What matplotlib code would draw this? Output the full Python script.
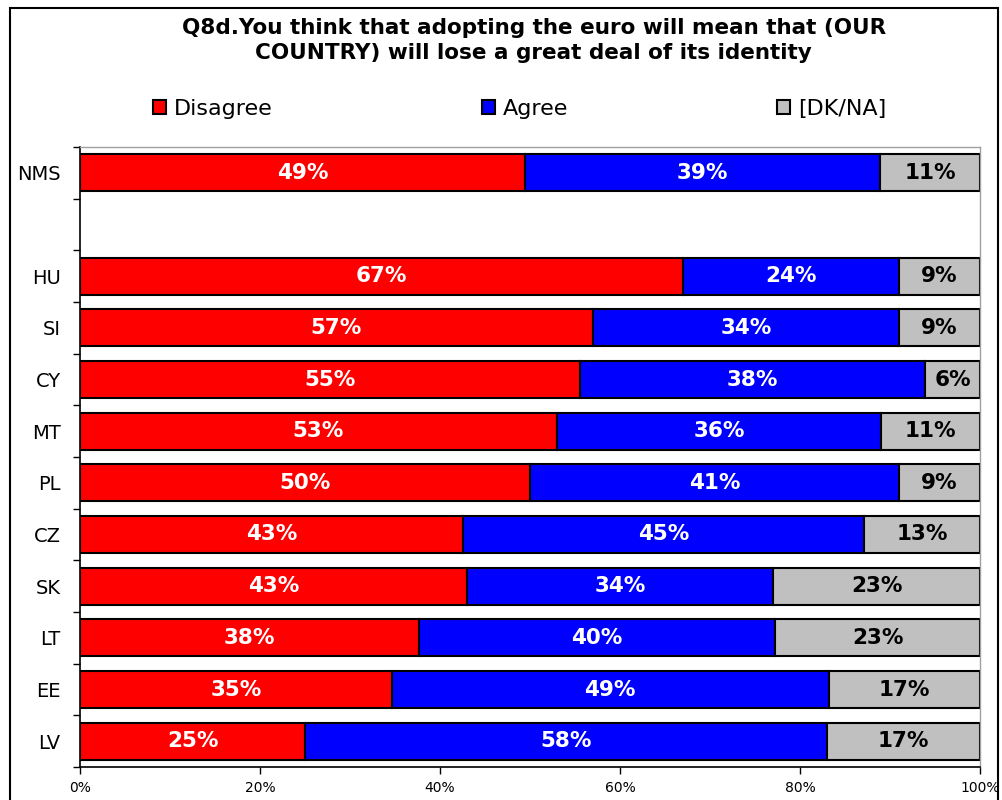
import numpy as np
import matplotlib
matplotlib.use('Agg')
import matplotlib.pyplot as plt
from matplotlib.patches import Rectangle

plt.rcParams['font.family'] = ['DejaVu Sans']

# rows top to bottom; the empty string is the spacer row under NMS
countries = ['NMS', '', 'HU', 'SI', 'CY', 'MT', 'PL', 'CZ', 'SK', 'LT', 'EE', 'LV']
disagree = [49, None, 67, 57, 55, 53, 50, 43, 43, 38, 35, 25]
agree = [39, None, 24, 34, 38, 36, 41, 45, 34, 40, 49, 58]
dkna = [11, None, 9, 9, 6, 11, 9, 13, 23, 23, 17, 17]

series = [('Disagree', disagree, '#ff0000', 'white'),
          ('Agree', agree, '#0000ff', 'white'),
          ('[DK/NA]', dkna, '#c0c0c0', 'black')]

fig = plt.figure(figsize=(10.03, 8), dpi=100)
ax = fig.add_axes([80/1003, 33/800, 900/1003, 620/800])

ypos = np.arange(len(countries))
rows = [i for i, c in enumerate(countries) if disagree[i] is not None]
totals = {i: disagree[i] + agree[i] + dkna[i] for i in rows}

# 100% stacked bars: each row is scaled to its own total
left = {i: 0.0 for i in rows}
for name, vals, col, tcol in series:
    widths = [vals[i] / totals[i] * 100 for i in rows]
    lefts = [left[i] for i in rows]
    ax.barh([ypos[i] for i in rows], widths, left=lefts, height=0.72,
            color=col, edgecolor='black', linewidth=1.5, label=name)
    for i, w, l in zip(rows, widths, lefts):
        ax.text(l + w / 2, ypos[i], '%d%%' % vals[i], ha='center', va='center',
                color=tcol, fontsize=15.5, fontweight='bold')
        left[i] = l + w

ax.set_xlim(0, 100)
ax.set_ylim(len(countries) - 0.5, -0.5)
ax.set_xticks(np.arange(0, 101, 20))
ax.set_xticklabels(['%d%%' % v for v in range(0, 101, 20)], fontsize=10)
ax.set_yticks(ypos)
ax.set_yticklabels(countries, fontsize=14)
ax.set_yticks(np.arange(-0.5, len(countries), 1), minor=True)
ax.tick_params(axis='y', which='major', length=0, pad=14)
ax.tick_params(axis='y', which='minor', length=5, width=1, direction='out')
ax.tick_params(axis='x', length=5, width=1, direction='out', pad=5)
for s in ['left', 'bottom']:
    ax.spines[s].set_linewidth(1.2)
for s in ['top', 'right']:
    ax.spines[s].set_color('#a0a0a0')
    ax.spines[s].set_linewidth(1)

fig.text(0.532, 0.978, 'Q8d.You think that adopting the euro will mean that (OUR\nCOUNTRY) will lose a great deal of its identity',
         ha='center', va='top', fontsize=15.5, fontweight='bold', linespacing=1.35)

handles, labels = ax.get_legend_handles_labels()
fig.legend(handles, labels, loc='center', bbox_to_anchor=(0.518, 0.864), ncol=3,
           frameon=False, fontsize=16, handlelength=0.6, handleheight=0.6,
           handletextpad=0.35, columnspacing=9.4)

fig.patches.append(Rectangle((10/1003, -0.01), 988/1003, 0.01 + 792/800,
                             transform=fig.transFigure, fill=False,
                             edgecolor='black', linewidth=1.5))

fig.savefig('out.png', dpi=100)
